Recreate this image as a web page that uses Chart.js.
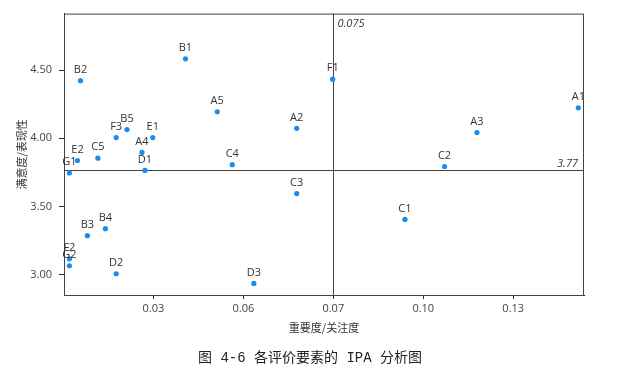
<!DOCTYPE html>
<html>
<head>
<meta charset="utf-8">
<script src="https://cdn.jsdelivr.net/npm/chart.js@4/dist/chart.umd.min.js"></script>
<style>
  html, body { margin: 0; padding: 0; background: #fff; }
  canvas { display: block; }
</style>
</head>
<body>
<canvas id="ipa" width="620" height="369"></canvas>
<script>
// Éléments d'évaluation : importance (x) / performance (y)
const ITEMS = ['A1', 'A2', 'A3', 'A4', 'A5',
               'B1', 'B2', 'B3', 'B4', 'B5',
               'C1', 'C2', 'C3', 'C4', 'C5',
               'D1', 'D2', 'D3',
               'E1', 'E2',
               'F1', 'F2', 'F3',
               'G1', 'G2'];
const IMPORTANCE = [0.1567, 0.0628, 0.1229, 0.0112, 0.0363,
                    0.0257, -0.0093, -0.0070, -0.0010, 0.0062,
                    0.0989, 0.1121, 0.0628, 0.0413, -0.0035,
                    0.0122, 0.0026, 0.0485,
                    0.0148, -0.0103,
                    0.0748, -0.0130, 0.0026,
                    -0.0130, -0.0130];
const PERFORMANCE = [4.224, 4.073, 4.042, 3.896, 4.195,
                     4.584, 4.423, 3.285, 3.336, 4.064,
                     3.404, 3.793, 3.594, 3.806, 3.854,
                     3.764, 3.005, 2.934,
                     4.005, 3.837,
                     4.434, 3.115, 4.005,
                     3.745, 3.064];

const X_TICKS = [0.015, 0.045, 0.075, 0.105, 0.135];
const X_TICK_LABELS = ['0.03', '0.06', '0.07', '0.10', '0.13'];
const Y_TICKS = [3.0, 3.5, 4.0, 4.5];
const X_RANGE = [-0.0148, 0.1586];
const Y_RANGE = [2.849, 4.916];

const MEAN_IMPORTANCE = 0.075;
const MEAN_PERFORMANCE = 3.77;
const CAPTION = '图 4-6 各评价要素的 IPA 分析图';

const LATIN = "'Open Sans', 'Noto Sans', sans-serif";
const CJK = "'Noto Sans CJK SC', sans-serif";

// ── cadre, lignes de moyenne, étiquettes, légende ─────────────────
const ipaDecor = {
  id: 'ipaDecor',
  beforeDatasetsDraw(chart) {
    const { ctx, chartArea: a, scales: { x, y } } = chart;
    ctx.save();
    ctx.strokeStyle = '#444';
    ctx.lineWidth = 1;
    ctx.strokeRect(a.left + 0.5, a.top + 0.5, a.right - a.left - 1, a.bottom - a.top);

    const mx = Math.round(x.getPixelForValue(MEAN_IMPORTANCE)) + 0.5;
    const my = Math.round(y.getPixelForValue(MEAN_PERFORMANCE)) + 0.5;
    ctx.beginPath();
    ctx.moveTo(mx, a.top); ctx.lineTo(mx, a.bottom);
    ctx.moveTo(a.left, my); ctx.lineTo(a.right, my);
    ctx.stroke();

    ctx.fillStyle = '#333';
    ctx.font = 'italic 11px ' + LATIN;
    ctx.textBaseline = 'middle';
    ctx.textAlign = 'left';
    ctx.fillText(String(MEAN_IMPORTANCE), mx + 4, a.top + 10);
    ctx.textAlign = 'right';
    ctx.fillText(MEAN_PERFORMANCE.toFixed(2), a.right - 6, my - 7);
    ctx.restore();
  },
  afterDatasetsDraw(chart) {
    const { ctx } = chart;
    const meta = chart.getDatasetMeta(0);
    ctx.save();
    ctx.fillStyle = '#333';
    ctx.font = '11px ' + LATIN;
    ctx.textAlign = 'center';
    ctx.textBaseline = 'middle';
    meta.data.forEach((pt, i) => {
      ctx.fillText(ITEMS[i], pt.x, pt.y - 11);
    });
    ctx.restore();
  },
  afterDraw(chart) {
    const { ctx } = chart;
    ctx.save();
    ctx.fillStyle = '#222';
    ctx.font = "14px 'Liberation Mono', 'Noto Sans CJK SC', monospace";
    ctx.textAlign = 'center';
    ctx.textBaseline = 'middle';
    ctx.fillText(CAPTION, 310, 358);
    ctx.restore();
  },
};

new Chart(document.getElementById('ipa'), {
  type: 'scatter',
  data: {
    datasets: [{
      label: 'IPA',
      data: ITEMS.map((_, i) => ({ x: IMPORTANCE[i], y: PERFORMANCE[i] })),
      backgroundColor: '#1a8cf0',
      borderColor: '#1a8cf0',
      pointRadius: 2.6,
      pointHoverRadius: 2.6,
      borderWidth: 0,
    }],
  },
  options: {
    responsive: false,
    animation: false,
    devicePixelRatio: 1,
    layout: { padding: { left: 11, top: 12, right: 36, bottom: 31 } },
    plugins: {
      legend: { display: false },
      tooltip: { enabled: false },
    },
    scales: {
      x: {
        type: 'linear',
        min: X_RANGE[0],
        max: X_RANGE[1],
        afterBuildTicks: s => { s.ticks = X_TICKS.map(v => ({ value: v })); },
        afterFit: s => { s.height = 43; },
        ticks: {
          color: '#444',
          font: { family: LATIN, size: 11 },
          padding: 3,
          maxRotation: 0,
          callback: (v, i) => X_TICK_LABELS[i],
        },
        grid: { drawOnChartArea: false, drawTicks: true, tickLength: 4, color: '#333' },
        border: { display: true, color: '#222' },
        title: {
          display: true,
          text: '重要度/关注度',
          color: '#333',
          font: { family: CJK, size: 11 },
        },
      },
      y: {
        type: 'linear',
        min: Y_RANGE[0],
        max: Y_RANGE[1],
        afterBuildTicks: s => { s.ticks = Y_TICKS.map(v => ({ value: v })); },
        afterFit: s => { s.width = 53; },
        ticks: {
          color: '#444',
          font: { family: LATIN, size: 11 },
          padding: 7,
          callback: v => Number(v).toFixed(2),
        },
        grid: { drawOnChartArea: false, drawTicks: true, tickLength: 5, color: '#333' },
        border: { display: true, color: '#333' },
        title: {
          display: true,
          text: '满意度/表现性',
          color: '#333',
          font: { family: CJK, size: 11 },
        },
      },
    },
  },
  plugins: [ipaDecor],
});
</script>
</body>
</html>
